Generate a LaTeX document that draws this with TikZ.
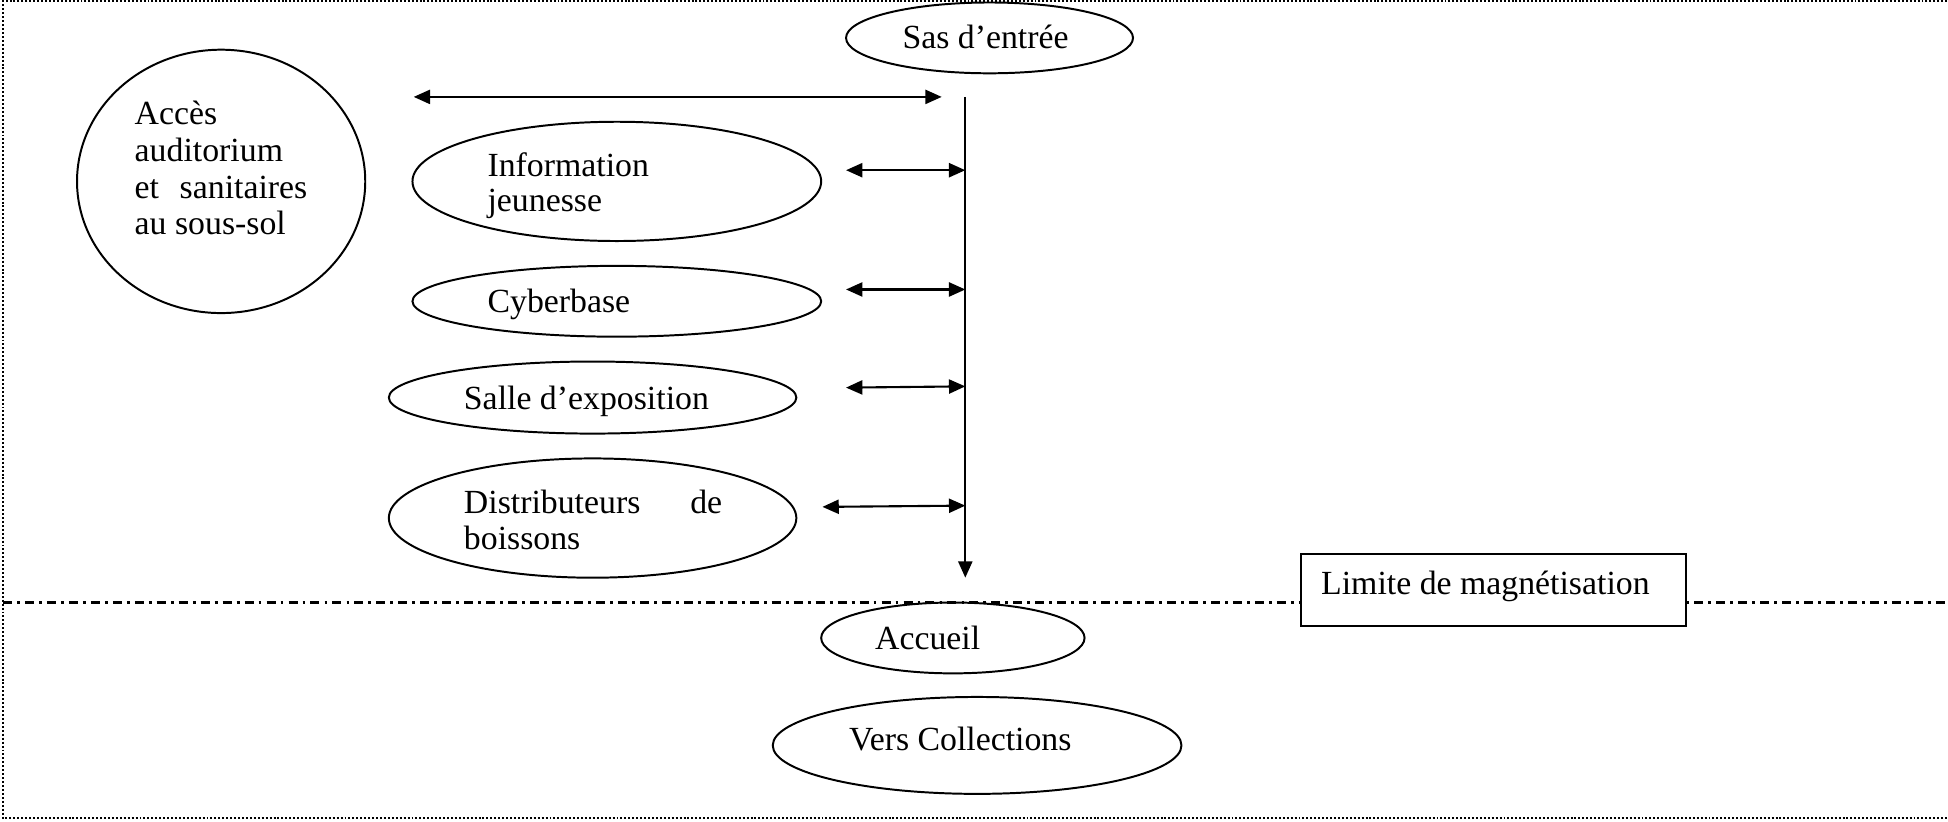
\documentclass[tikz,border=0pt]{standalone}
\usepackage{fontspec}
\setmainfont{Liberation Serif}
\usetikzlibrary{shapes.geometric,arrows.meta}
\begin{document}
\begin{tikzpicture}[x=0.4412pt,y=-0.4412pt,
  ell/.style 2 args={ellipse,draw,line width=0.7pt,minimum width=#1*0.8824pt,minimum height=#2*0.8824pt,inner sep=0pt},
  txt/.style={anchor=base west,inner sep=0pt,font=\fontsize{12}{13}\selectfont},
  tipA/.tip={Triangle[length=5.8pt,width=5pt]},
  arr/.style={line width=0.75pt,tipA-tipA},
  downarr/.style={line width=0.75pt,-tipA},
  border/.style={line width=0.8pt,dash pattern=on 0.7pt off 0.7pt},
  limit/.style={line width=0.8pt,dash pattern=on 3.2pt off 1.8pt on 1pt off 1.8pt},
  boxnode/.style={rectangle,draw,fill=white,line width=0.75pt,minimum width=136.8pt,minimum height=25.6pt,inner sep=0pt}
]
\useasboundingbox (0,0) rectangle (1568,661);
% frame
\draw[border] (1580,0.9) -- (2.4,0.9) -- (2.4,658.4) -- (1580,658.4);
% magnetisation limit line
\coordinate (limL) at (2.4,485);
\coordinate (limR) at (1580,485);
\draw[limit] (limL) -- (limR);

% ellipses
\node[ell={115.5}{28.5}] (sas) at (796.5,30.5) {};
\node[ell={116}{106}] (acces) at (178,146) {};
\node[ell={164.5}{48}] (info) at (496.5,146) {};
\node[ell={164.5}{28.5}] (cyber) at (496.5,242.5) {};
\node[ell={164}{29}] (salle) at (477,320) {};
\node[ell={164}{48}] (distr) at (477,417) {};
\node[ell={106}{28.5}] (accueil) at (767,513.5) {};
\node[ell={164.5}{39}] (vers) at (786.5,600) {};
\node[boxnode] (limite) at (1202,475) {};

% texts
\node[txt] (tsas) at (726,39) {Sas d’entrée};
\node[txt] (tacc1) at (108,100.6) {Accès};
\node[txt] (tacc2) at (108,130) {auditorium};
\node[txt] (tacc3) at (108,159.5) {\makebox[61.3pt][s]{et sanitaires}};
\node[txt] (tacc4) at (108,189) {au sous-sol};
\node[txt] (tinfo1) at (392,142) {Information};
\node[txt] (tinfo2) at (392,170.5) {jeunesse};
\node[txt] (tcyber) at (392,251.5) {Cyberbase};
\node[txt] (tsalle) at (373,329.5) {Salle d’exposition};
\node[txt] (tdistr1) at (373,413.5) {\makebox[91.7pt][s]{Distributeurs de}};
\node[txt] (tdistr2) at (373,442) {boissons};
\node[txt] (taccueil) at (704,523) {Accueil};
\node[txt] (tvers) at (683,604) {Vers Collections};
\node[txt] (tlimite) at (1063,478.5) {Limite de magnétisation};

% main corridor
\coordinate (vtop) at (777,78);
\coordinate (vbot) at (777,465);
\draw[downarr] (vtop) -- (vbot);

% arrows
\coordinate (hL) at (333,78);
\coordinate (hR) at (758,78);
\draw[arr] (hL) -- (hR);
\coordinate (a1L) at (681,137);
\coordinate (a1R) at (777,137);
\draw[arr] (a1L) -- (a1R);
\coordinate (a2L) at (681,233);
\coordinate (a2R) at (777,233);
\draw[arr] (a2L) -- (a2R);
\coordinate (a3L) at (681,312);
\coordinate (a3R) at (777,311);
\draw[arr] (a3L) -- (a3R);
\coordinate (a4L) at (662,408);
\coordinate (a4R) at (777,407);
\draw[arr] (a4L) -- (a4R);
\end{tikzpicture}
\end{document}
